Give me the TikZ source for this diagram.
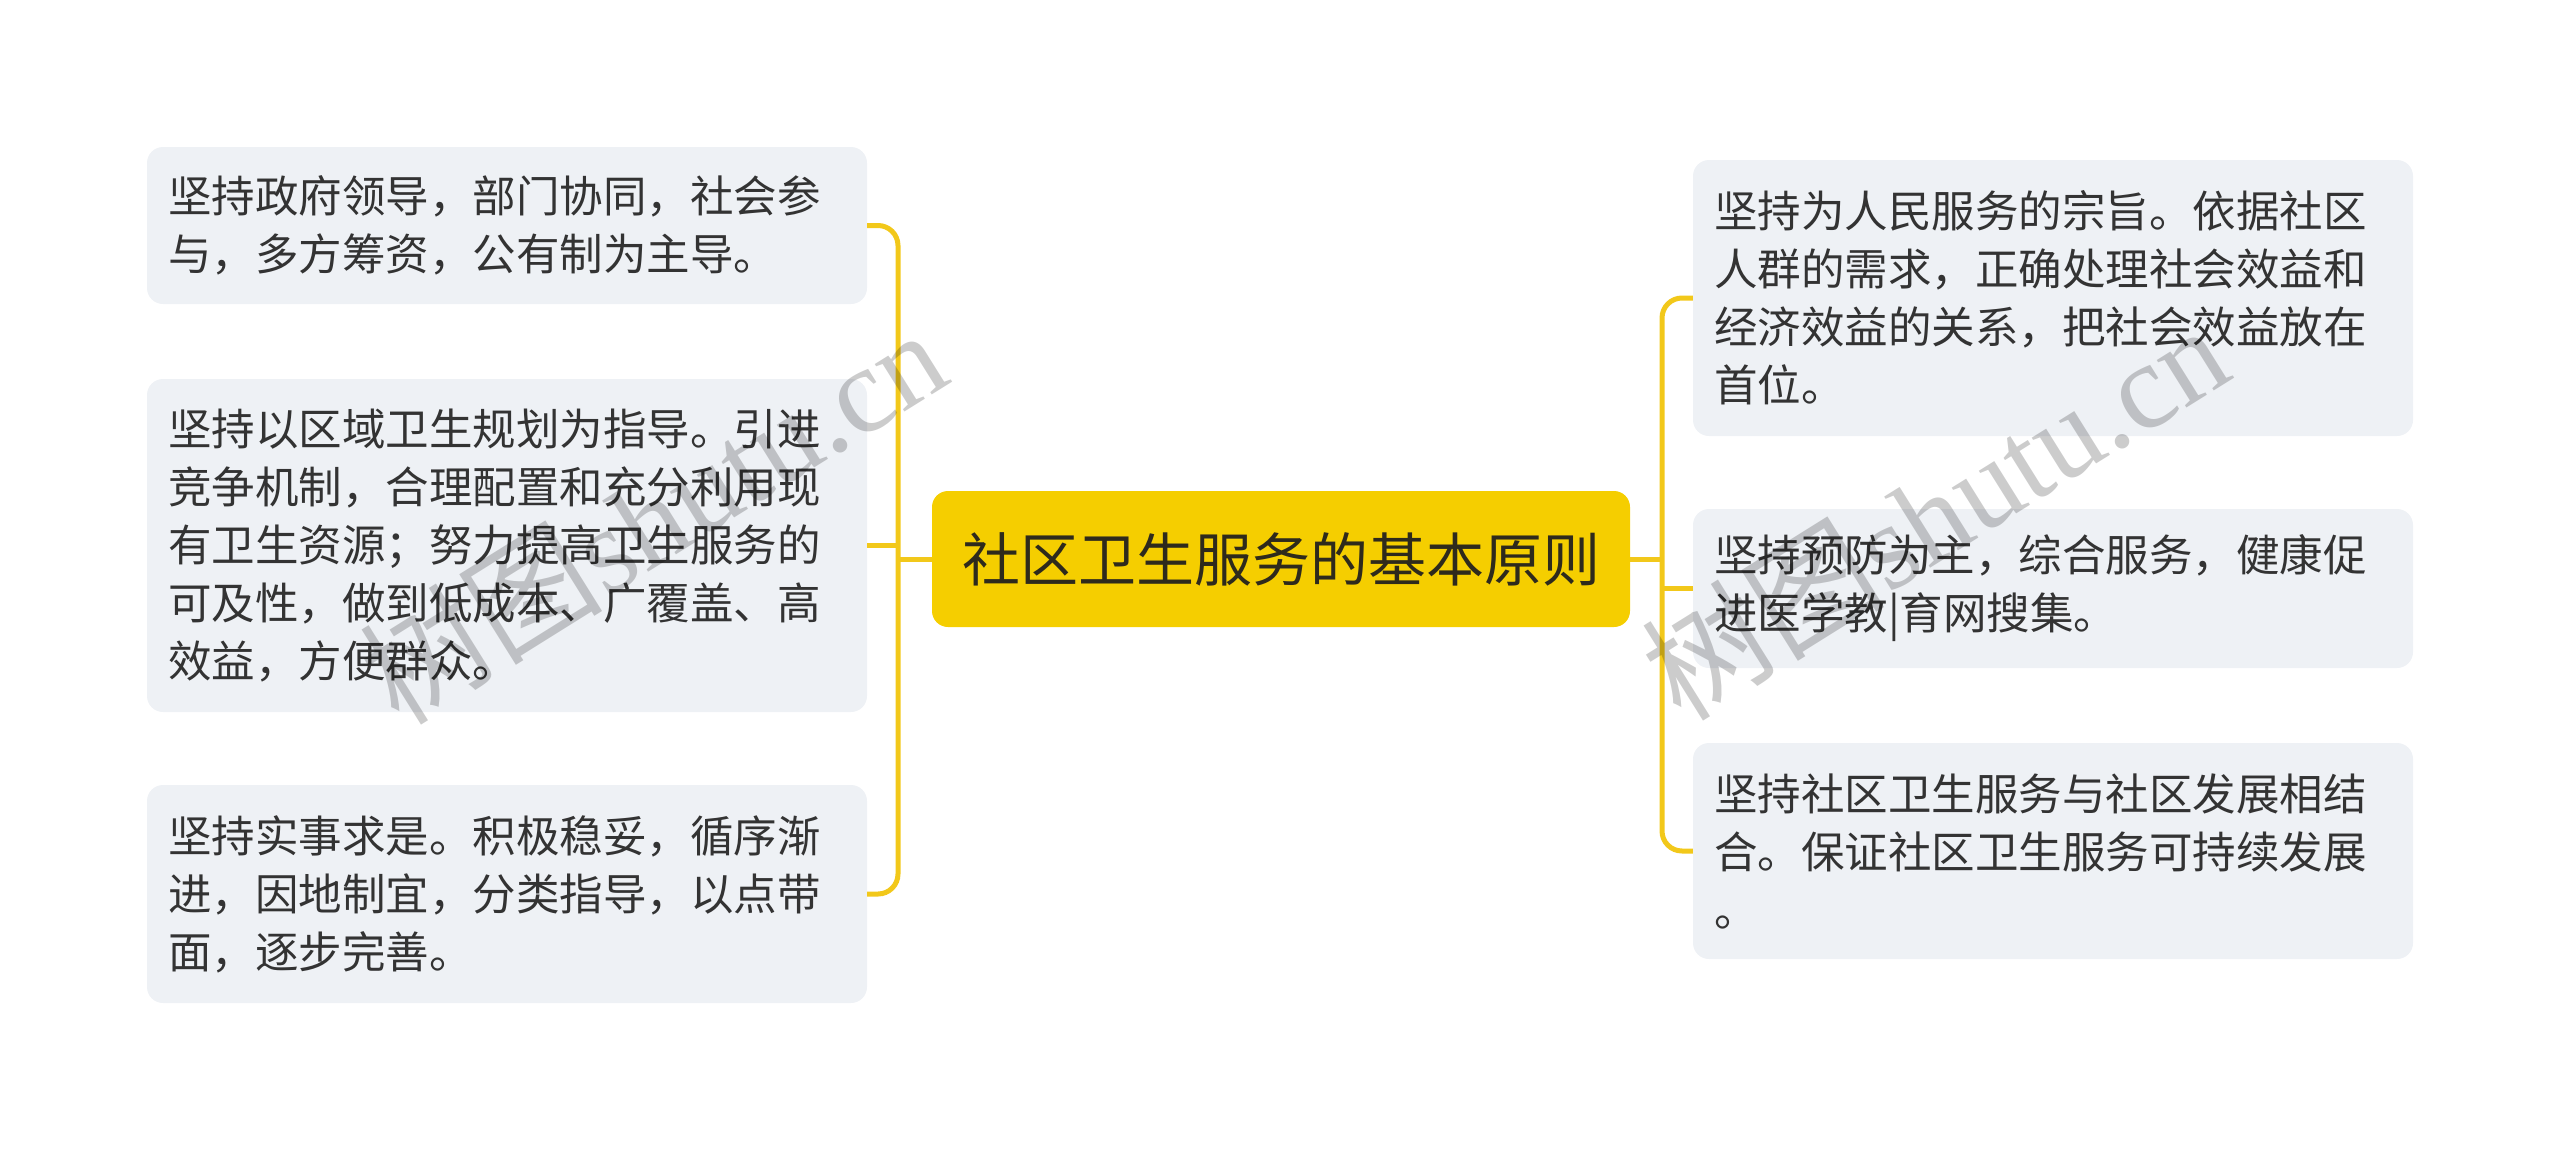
\documentclass[tikz,border=0pt]{standalone}
\usepackage{fontspec}
\setmainfont{Noto Sans CJK SC}
\newfontfamily\wmfont{Liberation Serif}
\usetikzlibrary{calc}
\definecolor{boxfill}{HTML}{EEF1F5}
\definecolor{mainfill}{HTML}{F5CE00}
\definecolor{linecol}{HTML}{F2C81A}
\definecolor{txt}{HTML}{333333}
\definecolor{maintxt}{HTML}{2E2A1C}
\tikzset{
  leaf/.style={fill=boxfill, rounded corners=16pt, minimum width=720pt, text width=678pt,
    inner xsep=21pt, inner ysep=0pt, align=left, text=txt, font=\fontsize{43.5}{58}\selectfont},
  root/.style={fill=mainfill, rounded corners=16pt, minimum width=698pt, minimum height=136pt,
    inner sep=0pt, text=maintxt, font=\fontsize{58}{70}\selectfont},
  conn/.style={draw=linecol, line width=5pt, rounded corners=20pt},
  wm/.style={text=black, text opacity=0.2, rotate=32, inner sep=0pt, font=\fontsize{122}{130}\selectfont}
}
\begin{document}
\begin{tikzpicture}[x=1pt,y=-1pt]
\useasboundingbox (0,0) rectangle (2560,1149);
% root
\node[root] (c) at (1281,559) {社区卫生服务的基本原则};
% left leaves
\node[leaf, minimum height=157pt] (L1) at (507,225.5) {坚持政府领导，部门协同，社会参\\与，多方筹资，公有制为主导。};
\node[leaf, minimum height=333pt] (L2) at (507,545.5) {坚持以区域卫生规划为指导。引进\\竞争机制，合理配置和充分利用现\\有卫生资源；努力提高卫生服务的\\可及性，做到低成本、广覆盖、高\\效益，方便群众。};
\node[leaf, minimum height=218pt] (L3) at (507,894) {坚持实事求是。积极稳妥，循序渐\\进，因地制宜，分类指导，以点带\\面，逐步完善。};
% right leaves
\node[leaf, minimum height=276pt] (R1) at (2053,298) {坚持为人民服务的宗旨。依据社区\\人群的需求，正确处理社会效益和\\经济效益的关系，把社会效益放在\\首位。};
\node[leaf, minimum height=159pt] (R2) at (2053,588.5) {坚持预防为主，综合服务，健康促\\进医学教|育网搜集。};
\node[leaf, minimum height=216pt] (R3) at (2053,851) {坚持社区卫生服务与社区发展相结\\合。保证社区卫生服务可持续发展\\。};
% trunk coordinates
\coordinate (lv) at (898,559);
\coordinate (rv) at (1662,559);
% left connectors
\draw[conn] (c.west) -- (lv);
\draw[conn] (L1.east) -| (lv |- L3.east) -- (L3.east);
\draw[conn] (L2.east) -- (lv |- L2.east);
% right connectors
\draw[conn] (c.east) -- (rv);
\draw[conn] (R1.west) -| (rv |- R3.west) -- (R3.west);
\draw[conn] (R2.west) -- (rv |- R2.west);
% watermarks
\node[wm] (w1) at (652,515) {树图{\wmfont shutu.cn}};
\node[wm] (w2) at (1934,511) {树图{\wmfont shutu.cn}};
\end{tikzpicture}
\end{document}
